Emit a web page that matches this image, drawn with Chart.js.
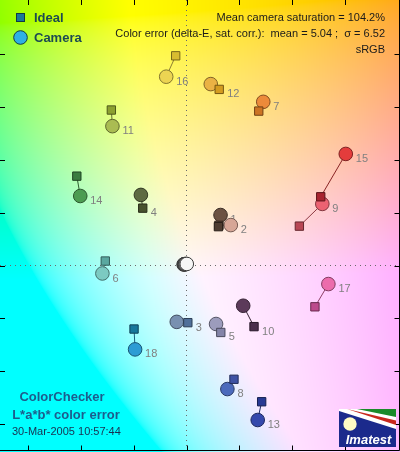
<!DOCTYPE html>
<html>
    <head>
        <meta charset="utf-8">
        <script src="https://cdn.jsdelivr.net/npm/chart.js@4.4.0/dist/chart.umd.min.js"></script>
        <style>
            body { margin: 0; background: #fff; }
        </style>
    </head>
    <body>
        <div style="width: 400px; height: 452px;">
            <canvas id="wykres"></canvas>
        </div>
        <script>
            // pola ColorChecker 1-18 (kolorowe)
            var numery = [1, 2, 3, 4, 5, 6, 7, 8, 9, 10, 11, 12, 13, 14, 15, 16, 17, 18];
            // wzorzec (Ideal) a*, b*
            var wzorA = [12.1, 12.3, 0.5, -16.6, 13.0, -30.8, 27.4, 18.0, 42.8, 25.6, -28.5, 12.4, 28.5, -41.6, 50.9, -4.1, 48.7, -19.9];
            var wzorB = [14.7, 15.2, -21.6, 21.7, -25.3, 1.7, 58.4, -43.0, 14.9, -23.1, 58.8, 66.6, -51.5, 33.8, 26.0, 79.3, -15.6, -24.0];
            // aparat (Camera) a*, b*
            var kamA = [12.9, 16.8, -3.7, -17.3, 11.2, -31.9, 29.1, 15.5, 51.5, 21.5, -28.1, 9.2, 27.0, -40.3, 60.4, -7.7, 53.8, -19.5];
            var kamB = [19.1, 15.3, -21.3, 26.7, -22.1, -3.0, 61.9, -46.7, 23.3, -15.2, 52.7, 68.6, -58.4, 26.3, 42.2, 71.4, -7.0, -31.7];
            // pola szare 24..19 (aparat), wzorzec w 0,0
            var szareA = [-1.1, -0.9, -0.8, -0.6, -0.3, 0.1];
            var szareB = [0.4, 0.5, 0.5, 0.5, 0.6, 0.6];
            var tykiA = [-60, -40, -20, 0, 20, 40, 60];
            var tykiB = [-60, -40, -20, 0, 20, 40, 60, 80];
            // numery opisane przy kwadracie zamiast przy kole
            var opisPrzyWzorcu = [3, 4, 5, 10, 12];

            var kolorWzor = ['#4e3c30', '#5a4436', '#50709a', '#48522e', '#8484a8', '#5aa8a0', '#cc7424', '#3e52a4', '#b84654', '#4a2e4c',
                             '#8ca030', '#d49c20', '#283a94', '#3a7c40', '#a82430', '#d8bc30', '#bc4a8c', '#16789c'];
            var kolorKam = ['#6c5242', '#d6a696', '#7890b0', '#5e6a42', '#9c9cbc', '#7ccac2', '#ec8a3a', '#4c6abc', '#ec6272', '#5c3a5a',
                            '#aabc52', '#eab244', '#3448ac', '#4c9c52', '#e43c3c', '#ecd452', '#ec6cac', '#2c9cd4'];
            var kolorSzare = ['#2a2a2a', '#4c4c4c', '#747474', '#9c9c9c', '#c6c6c6', '#f6f6f6'];

            var FONT = '"Liberation Sans", Arial, sans-serif';

            function ciemniej(hex, f) {
                var n = parseInt(hex.slice(1), 16);
                var r = Math.round(((n >> 16) & 255) * f), g = Math.round(((n >> 8) & 255) * f), b = Math.round((n & 255) * f);
                return 'rgb(' + r + ',' + g + ',' + b + ')';
            }

            // Lab -> sRGB (D65), przyciete
            function lab2rgb(L, a, b) {
                var fy = (L + 16) / 116, fx = fy + a / 500, fz = fy - b / 200;
                function fi(t) { return t > 0.206893 ? t * t * t : (t - 16 / 116) / 7.787; }
                var X = 0.95047 * fi(fx), Y = fi(fy), Z = 1.08883 * fi(fz);
                var r = 3.2406 * X - 1.5372 * Y - 0.4986 * Z;
                var g = -0.9689 * X + 1.8758 * Y + 0.0415 * Z;
                var bb = 0.0557 * X - 0.2040 * Y + 1.0570 * Z;
                function gam(c) {
                    c = Math.min(1, Math.max(0, c));
                    return Math.round(255 * (c <= 0.0031308 ? 12.92 * c : 1.055 * Math.pow(c, 1 / 2.4) - 0.055));
                }
                return [gam(r), gam(g), gam(bb)];
            }

            // dane do wykresu
            var linie = [];
            var kolorLinii = [];
            numery.forEach(function (n, i) {
                linie.push({ x: wzorA[i], y: wzorB[i] }, { x: kamA[i], y: kamB[i] }, { x: kamA[i], y: null });
                kolorLinii.push(ciemniej(kolorKam[i], 0.6));
            });
            // kwadraty od 18 do 1, zeby 1 lezal na wierzchu
            var kwadraty = [], kwKolor = [], kwRamka = [];
            for (var i = numery.length - 1; i >= 0; i--) {
                kwadraty.push({ x: wzorA[i], y: wzorB[i] });
                kwKolor.push(kolorWzor[i]);
                kwRamka.push(ciemniej(kolorWzor[i], 0.55));
            }
            var kola = [], kolKolor = [], kolRamka = [];
            numery.forEach(function (n, i) {
                kola.push({ x: kamA[i], y: kamB[i] });
                kolKolor.push(kolorKam[i]);
                kolRamka.push(ciemniej(kolorKam[i], 0.55));
            });
            szareA.forEach(function (a, i) {
                kola.push({ x: a, y: szareB[i] });
                kolKolor.push(kolorSzare[i]);
                kolRamka.push('#3a3a3a');
            });

            var tlo = {
                id: 'tlo',
                beforeDraw: function (chart) {
                    var ctx = chart.ctx, sx = chart.scales.x, sy = chart.scales.y;
                    var dpr = chart.currentDevicePixelRatio;
                    var W = chart.canvas.width, H = chart.canvas.height;
                    var img = ctx.createImageData(W, H);
                    var p = 0;
                    for (var py = 0; py < H; py++) {
                        var b = sy.getValueForPixel((py + 0.5) / dpr);
                        for (var px = 0; px < W; px++) {
                            var a = sx.getValueForPixel((px + 0.5) / dpr);
                            var c = lab2rgb(97, a, b);
                            img.data[p++] = c[0]; img.data[p++] = c[1]; img.data[p++] = c[2]; img.data[p++] = 255;
                        }
                    }
                    ctx.putImageData(img, 0, 0);
                }
            };

            var podpisy = {
                id: 'podpisy',
                beforeDatasetsDraw: function (chart) {
                    var ctx = chart.ctx;
                    var metaKw = chart.getDatasetMeta(0);
                    var metaKol = chart.getDatasetMeta(1);
                    ctx.save();
                    ctx.font = '11px ' + FONT;
                    ctx.fillStyle = '#808080';
                    ctx.textBaseline = 'middle';
                    numery.forEach(function (n, i) {
                        if (opisPrzyWzorcu.indexOf(n) >= 0) {
                            var kw = metaKw.data[numery.length - 1 - i];
                            ctx.fillText(String(n), kw.x + 8, kw.y + 5);
                        } else {
                            var el = metaKol.data[i];
                            ctx.fillText(String(n), el.x + 10, el.y + 5);
                        }
                    });
                    ctx.restore();
                },
                afterDraw: function (chart) {
                    var ctx = chart.ctx, sx = chart.scales.x, sy = chart.scales.y, ca = chart.chartArea;
                    ctx.save();
                    // ramka i tyki do srodka
                    ctx.strokeStyle = '#000';
                    ctx.lineWidth = 1;
                    ctx.beginPath();
                    var dol = ca.bottom - 1.5, prawo = ca.right - 0.5;
                    ctx.moveTo(ca.left, dol); ctx.lineTo(prawo, dol); ctx.lineTo(prawo, ca.top);
                    tykiA.forEach(function (v) {
                        var px = Math.round(sx.getPixelForValue(v)) + 0.5;
                        ctx.moveTo(px, ca.top); ctx.lineTo(px, ca.top + 5);
                        ctx.moveTo(px, dol); ctx.lineTo(px, dol - 5);
                    });
                    tykiB.forEach(function (v) {
                        var py = Math.round(sy.getPixelForValue(v)) + 0.5;
                        ctx.moveTo(ca.left, py); ctx.lineTo(ca.left + 5, py);
                        ctx.moveTo(prawo, py); ctx.lineTo(prawo - 5, py);
                    });
                    ctx.stroke();

                    // legenda
                    ctx.fillStyle = '#1a7898'; ctx.strokeStyle = '#0e3a48';
                    ctx.fillRect(16.5, 13.5, 8, 8); ctx.strokeRect(16.5, 13.5, 8, 8);
                    ctx.beginPath(); ctx.arc(20.5, 37.5, 6.8, 0, 2 * Math.PI);
                    ctx.fillStyle = '#2eb0e4'; ctx.fill(); ctx.strokeStyle = '#0e3a48'; ctx.stroke();
                    ctx.font = 'bold 13px ' + FONT;
                    ctx.fillStyle = '#1c4a52';
                    ctx.textBaseline = 'middle';
                    ctx.fillText('Ideal', 34, 18);
                    ctx.fillText('Camera', 34, 38);

                    // opis w prawym gornym rogu
                    ctx.font = '11px ' + FONT;
                    ctx.fillStyle = '#1a1a1a';
                    ctx.textAlign = 'right';
                    ctx.fillText('Mean camera saturation = 104.2%', 385, 18);
                    ctx.fillText('Color error (delta-E, sat. corr.):  mean = 5.04 ;  \u03c3 = 6.52', 385, 34);
                    ctx.fillText('sRGB', 385, 50);

                    // opis w lewym dolnym rogu
                    ctx.textAlign = 'center';
                    ctx.font = 'bold 13px ' + FONT;
                    ctx.fillStyle = '#1d5c8c';
                    ctx.fillText('ColorChecker', 62, 397);
                    ctx.fillText('L*a*b* color error', 66, 415);
                    ctx.textAlign = 'left';
                    ctx.font = '11px ' + FONT;
                    ctx.fillStyle = '#1a3050';
                    ctx.fillText('30-Mar-2005 10:57:44', 12, 432);

                    // logo
                    var x0 = 339, y0 = 409, w = 57, h = 38;
                    ctx.fillStyle = '#1b2a8c';
                    ctx.fillRect(x0, y0, w, h);
                    ctx.save();
                    ctx.beginPath(); ctx.rect(x0, y0, w, h); ctx.clip();
                    function wielokat(pkt, kol) {
                        ctx.beginPath();
                        ctx.moveTo(x0 + pkt[0][0], y0 + pkt[0][1]);
                        for (var k = 1; k < pkt.length; k++) ctx.lineTo(x0 + pkt[k][0], y0 + pkt[k][1]);
                        ctx.closePath(); ctx.fillStyle = kol; ctx.fill();
                    }
                    wielokat([[0, 0], [w, 0], [w, 20], [0, 2]], '#ffffff');
                    wielokat([[18, 0], [w, 0], [w, 8]], '#1a8a2a');
                    wielokat([[8, 0], [w, 11.5], [w, 16]], '#c8281e');
                    ctx.restore();
                    ctx.beginPath(); ctx.arc(x0 + 11, y0 + 15, 6.7, 0, 2 * Math.PI);
                    ctx.fillStyle = '#fffbc4'; ctx.fill();
                    ctx.font = 'italic bold 13px ' + FONT;
                    ctx.fillStyle = '#ffffff';
                    ctx.textBaseline = 'alphabetic';
                    ctx.textAlign = 'center';
                    ctx.fillText('Imatest', x0 + w / 2 + 1, y0 + 35);
                    ctx.restore();
                }
            };

            var siatka = function (ctx) {
                return ctx.tick && ctx.tick.value === 0 ? '#6a6a6a' : 'rgba(0,0,0,0)';
            };

            var ctx = document.getElementById('wykres').getContext('2d');
            var wykres = new Chart(ctx, {
                type: 'scatter',
                data: {
                    datasets: [
                        {
                            label: 'Ideal',
                            data: kwadraty,
                            pointStyle: 'rect',
                            pointRadius: 5.9,
                            backgroundColor: kwKolor,
                            borderColor: kwRamka,
                            borderWidth: 1
                        },
                        {
                            label: 'Camera',
                            data: kola,
                            pointStyle: 'circle',
                            pointRadius: 6.8,
                            backgroundColor: kolKolor,
                            borderColor: kolRamka,
                            borderWidth: 1
                        },
                        {
                            label: 'linie',
                            data: linie,
                            showLine: true,
                            spanGaps: false,
                            pointRadius: 0,
                            borderWidth: 1,
                            borderColor: '#555',
                            segment: {
                                borderColor: function (c) { return kolorLinii[Math.floor(c.p0DataIndex / 3)]; }
                            }
                        }
                    ]
                },
                options: {
                    responsive: true,
                    maintainAspectRatio: false,
                    animation: false,
                    layout: { padding: 0, autoPadding: false },
                    plugins: { legend: { display: false }, tooltip: { enabled: false } },
                    scales: {
                        x: {
                            type: 'linear', min: -70.73, max: 80.96,
                            ticks: { display: false, stepSize: 20 },
                            grid: { drawTicks: false, color: siatka, lineWidth: 1 },
                            border: { display: false, dash: [1, 4] }
                        },
                        y: {
                            type: 'linear', min: -70.5, max: 100.4,
                            ticks: { display: false, stepSize: 20 },
                            grid: { drawTicks: false, color: siatka, lineWidth: 1 },
                            border: { display: false, dash: [1, 4] }
                        }
                    }
                },
                plugins: [tlo, podpisy]
            });
        </script>
    </body>
</html>
